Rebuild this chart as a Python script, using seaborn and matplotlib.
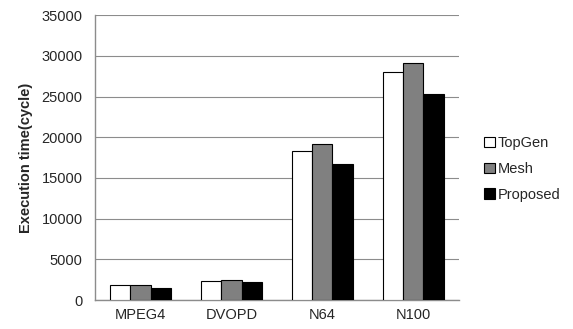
import matplotlib
matplotlib.use("Agg")
import matplotlib.pyplot as plt
import seaborn as sns
import pandas as pd
from matplotlib.ticker import FixedLocator

categories = ["MPEG4", "DVOPD", "N64", "N100"]
series = ["TopGen", "Mesh", "Proposed"]
topgen = [1800, 2330, 18300, 27960]
mesh = [1850, 2420, 19120, 29100]
proposed = [1510, 2170, 16660, 25260]
yticks = [0, 5000, 10000, 15000, 20000, 25000, 30000, 35000]

rows = []
for name, vals in zip(series, [topgen, mesh, proposed]):
    for c, v in zip(categories, vals):
        rows.append({"cat": c, "series": name, "val": v})
df = pd.DataFrame(rows)

sns.set_style("white")
plt.rcParams["font.family"] = ["Liberation Sans", "DejaVu Sans"]
FS = 10.5

fig = plt.figure(figsize=(5.73, 3.29), dpi=100)
ax = fig.add_axes([0.1658, 0.088, 0.801 - 0.1658, 0.954 - 0.088])
sns.barplot(data=df, x="cat", y="val", hue="series", order=categories,
            hue_order=series, palette=["white", "#808080", "black"],
            edgecolor="black", linewidth=0.8, width=0.66, ax=ax, errorbar=None,
            zorder=3)

ax.set_ylim(0, 35000)
ax.set_xlim(-0.5, 3.5)
ax.set_yticks(yticks)
ax.set_yticklabels([str(t) for t in yticks], fontsize=FS)
ax.yaxis.grid(True, color="#8c8c8c", linewidth=0.8, zorder=0)
ax.set_axisbelow(True)
ax.set_xlabel("")
ax.set_ylabel("Execution time(cycle)", fontsize=FS, fontweight="bold", labelpad=6)
ax.tick_params(axis="x", which="major", length=0, labelsize=FS, pad=6)
ax.xaxis.set_minor_locator(FixedLocator([-0.5, 0.5, 1.5, 2.5, 3.5]))
ax.tick_params(axis="x", which="minor", length=4, color="#8c8c8c", width=0.8, direction="out")
ax.tick_params(axis="y", which="major", length=5, color="#8c8c8c", width=0.8, direction="out", pad=4)
for s in ["top", "right"]:
    ax.spines[s].set_visible(False)
for s in ["left", "bottom"]:
    ax.spines[s].set_color("#8c8c8c")
    ax.spines[s].set_linewidth(1.0)

ax.legend(loc="center left", bbox_to_anchor=(1.07, 0.46), frameon=False,
          fontsize=FS, handlelength=0.7, handleheight=0.7, handletextpad=0.2,
          labelspacing=0.8, borderaxespad=0, borderpad=0)

fig.savefig("out.png", dpi=100, facecolor="white")
